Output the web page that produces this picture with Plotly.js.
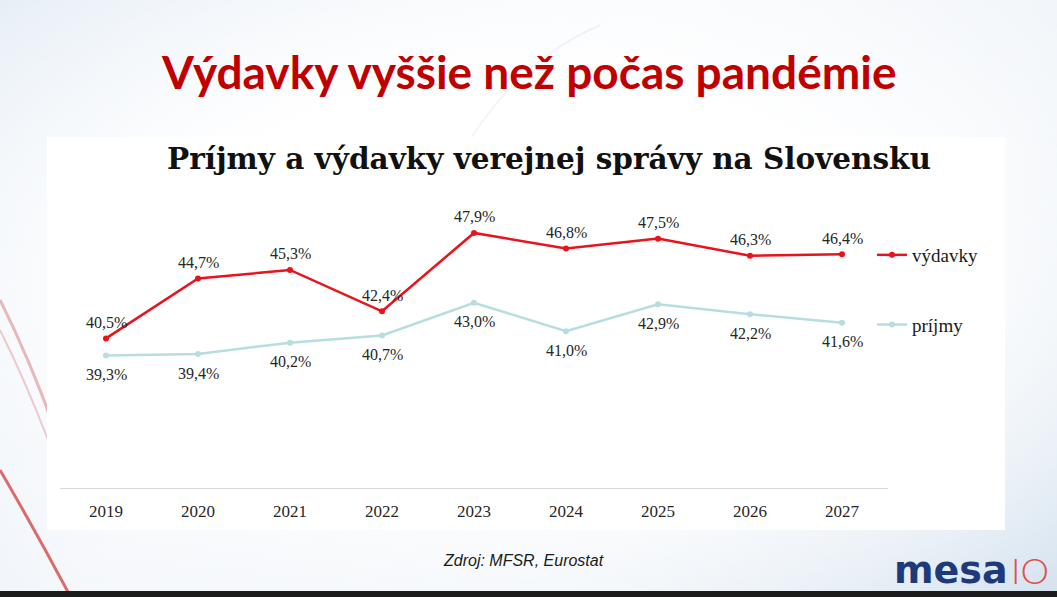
<!DOCTYPE html>
<html>
<head>
<meta charset="utf-8">
<script src="https://cdn.plot.ly/plotly-3.0.1.min.js"></script>
<style>
    html, body { margin: 0; padding: 0; }
    body {
        width: 1057px; height: 597px; overflow: hidden;
        background:
            radial-gradient(ellipse 75% 70% at 50% 45%, #ffffff 45%, rgba(255,255,255,0) 100%),
            linear-gradient(135deg, #e3ecf5 0%, #f4f7fb 40%, #eef3f8 70%, #d6e3ef 100%);
    }
    #chart { width: 1057px; height: 597px; }
</style>
</head>
<body>
<div id="chart"></div>
<script>
// ============== údaje ==============
const years = ['2019', '2020', '2021', '2022', '2023', '2024', '2025', '2026', '2027'];
const vydavky = [40.5, 44.7, 45.3, 42.4, 47.9, 46.8, 47.5, 46.3, 46.4];
const prijmy = [39.3, 39.4, 40.2, 40.7, 43.0, 41.0, 42.9, 42.2, 41.6];

const slideTitle = 'Výdavky vyššie než počas pandémie';
const chartTitle = 'Príjmy a výdavky verejnej správy na Slovensku';
const sourceText = 'Zdroj: MFSR, Eurostat';

// ============== pomocné funkcie ==============
const W = 1057, H = 597;
const px = x => x / W;
const py = y => 1 - y / H;
const fmt = v => v.toFixed(1).replace('.', ',') + '%';

const serif = '"Liberation Serif", "DejaVu Serif", serif';
const labelFont = { family: serif, size: 16, color: '#262626' };

const RED = '#e8131b';
const TEAL = '#b7dde0';

const traces = [
    {
        x: years, y: vydavky, name: 'výdavky', legendgroup: 'a',
        type: 'scatter', mode: 'lines+markers',
        line: { color: RED, width: 2.5 },
        marker: { color: RED, size: 6 },
        hoverinfo: 'skip'
    },
    {
        x: years, y: prijmy, name: 'príjmy', legendgroup: 'b',
        type: 'scatter', mode: 'lines+markers',
        line: { color: TEAL, width: 2.5 },
        marker: { color: TEAL, size: 6 },
        hoverinfo: 'skip'
    }
];

// popisky hodnôt (x ako poradové číslo kategórie)
const annotations = [];
years.forEach((yr, i) => {
    annotations.push({
        x: i, y: vydavky[i], xref: 'x', yref: 'y', text: fmt(vydavky[i]),
        xanchor: 'center', yanchor: 'middle',
        showarrow: false, yshift: 16, font: labelFont
    });
    annotations.push({
        x: i, y: prijmy[i], xref: 'x', yref: 'y', text: fmt(prijmy[i]),
        xanchor: 'center', yanchor: 'middle',
        showarrow: false, yshift: -19, font: labelFont
    });
});

// nadpis snímky, nadpis grafu, zdroj, logo
annotations.push(
    {
        text: '<b>' + slideTitle + '</b>', xref: 'paper', yref: 'paper',
        x: px(528), y: py(72), xanchor: 'center', yanchor: 'middle', showarrow: false,
        font: { family: 'Lato, "Open Sans", sans-serif', size: 46, color: '#c00000' }
    },
    {
        text: '<b>' + chartTitle + '</b>', xref: 'paper', yref: 'paper',
        x: px(549), y: py(158), xanchor: 'center', yanchor: 'middle', showarrow: false,
        font: { family: '"DejaVu Serif", serif', size: 29.5, color: '#111111' }
    },
    {
        text: '<i>' + sourceText + '</i>', xref: 'paper', yref: 'paper',
        x: px(523), y: py(560), xanchor: 'center', yanchor: 'middle', showarrow: false,
        font: { family: '"Liberation Sans", Arial, sans-serif', size: 16, color: '#1a1a1a' }
    },
    {
        text: '<b>mesa</b>', xref: 'paper', yref: 'paper',
        x: px(1010), y: py(570), xanchor: 'right', yanchor: 'middle', showarrow: false,
        font: { family: '"DejaVu Sans", sans-serif', size: 38, color: '#1f3a7a' }
    },
    {
        text: 'IO', xref: 'paper', yref: 'paper',
        x: px(1009), y: py(570), xanchor: 'left', yanchor: 'middle', showarrow: false,
        font: { family: 'Lato, sans-serif', size: 36, color: '#d9534f', weight: 300 }
    }
);

const shapes = [
    // dekoratívne červené oblúky
    { type: 'path', xref: 'paper', yref: 'paper', layer: 'below',
      path: `M ${px(0)} ${py(300)} Q ${px(30)} ${py(360)} ${px(55)} ${py(430)}`,
      line: { color: 'rgba(200,60,60,0.35)', width: 3 } },
    { type: 'path', xref: 'paper', yref: 'paper', layer: 'below',
      path: `M ${px(0)} ${py(330)} Q ${px(25)} ${py(380)} ${px(48)} ${py(440)}`,
      line: { color: 'rgba(200,60,60,0.25)', width: 2 } },
    { type: 'path', xref: 'paper', yref: 'paper', layer: 'below',
      path: `M ${px(0)} ${py(470)} Q ${px(35)} ${py(530)} ${px(68)} ${py(592)}`,
      line: { color: 'rgba(205,50,50,0.7)', width: 3 } },
    { type: 'path', xref: 'paper', yref: 'paper', layer: 'below',
      path: `M ${px(470)} ${py(140)} Q ${px(520)} ${py(60)} ${px(600)} ${py(25)}`,
      line: { color: 'rgba(180,180,190,0.15)', width: 2 } },
    // biely rámec grafu
    { type: 'rect', xref: 'paper', yref: 'paper', layer: 'below',
      x0: px(47), x1: px(1005), y0: py(530), y1: py(137),
      fillcolor: '#ffffff', line: { width: 0 } },
    // tmavý pruh dole
    { type: 'rect', xref: 'paper', yref: 'paper', layer: 'below',
      x0: 0, x1: 1, y0: 0, y1: py(591),
      fillcolor: '#1c1c1c', line: { width: 0 } }
];

const layout = {
    width: W, height: H,
    margin: { l: 0, r: 0, t: 0, b: 0 },
    paper_bgcolor: 'rgba(0,0,0,0)',
    plot_bgcolor: 'rgba(0,0,0,0)',
    showlegend: true,
    legend: {
        x: px(872), y: py(236), xanchor: 'left', yanchor: 'top',
        bgcolor: 'rgba(0,0,0,0)', traceorder: 'grouped', tracegroupgap: 42,
        itemwidth: 30,
        font: { family: serif, size: 19, color: '#1a1a1a' }
    },
    xaxis: {
        type: 'category', domain: [px(60), px(888)], range: [-0.5, 8.5],
        showgrid: false, zeroline: false,
        showline: true, linecolor: '#d9d9d9', linewidth: 1,
        ticks: '', ticklabelstandoff: 8,
        tickfont: { family: serif, size: 17, color: '#262626' },
        fixedrange: true
    },
    yaxis: {
        domain: [py(488), py(203)], range: [30, 50],
        showgrid: false, zeroline: false, showline: false,
        showticklabels: false, ticks: '', fixedrange: true
    },
    annotations: annotations,
    shapes: shapes
};

Plotly.newPlot('chart', traces, layout, { displayModeBar: false, staticPlot: true });
</script>
</body>
</html>
